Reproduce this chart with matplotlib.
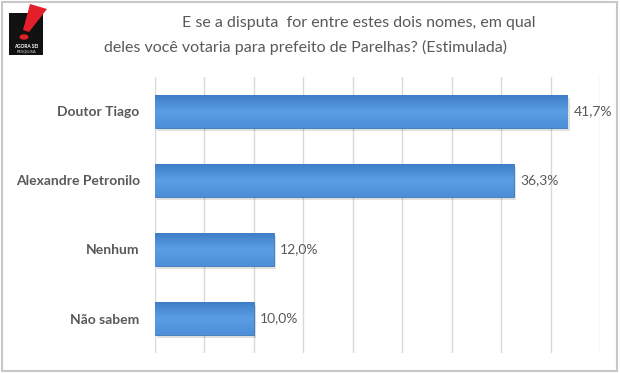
import matplotlib
matplotlib.use("Agg")
import numpy as np
import matplotlib.pyplot as plt
from matplotlib.patches import Rectangle, Polygon, Circle
from matplotlib.colors import LinearSegmentedColormap

categories = ["Doutor Tiago", "Alexandre Petronilo", "Nenhum", "Não sabem"]
values = [41.7, 36.3, 12.0, 10.0]
value_labels = ["41,7%", "36,3%", "12,0%", "10,0%"]
title_lines = ["E se a disputa  for entre estes dois nomes, em qual",
               "deles você votaria para prefeito de Parelhas? (Estimulada)"]

plt.rcParams["font.family"] = ["Lato", "DejaVu Sans"]
gray = "#595959"

fig = plt.figure(figsize=(6.2, 3.73), dpi=100)
ax = fig.add_axes([155 / 620, 1 - 353 / 373, 445 / 620, 276 / 373])

y = list(range(len(categories)))
bars = ax.barh(y, values, height=0.48, color="#4a8cd4", edgecolor="#3b78bd", linewidth=0.6, zorder=3)

# vertical gradient on each bar, like the office chart style
grad = LinearSegmentedColormap.from_list("g", ["#3c7cc6", "#5b9ee3", "#4d8fd8"])
for b in bars:
    x0, y0 = b.get_x(), b.get_y()
    w, h = b.get_width(), b.get_height()
    im = ax.imshow(np.linspace(0, 1, 64).reshape(-1, 1), cmap=grad, aspect="auto",
                   extent=(x0, x0 + w, y0 + h, y0), zorder=3.5, origin="upper")
    im.set_clip_path(b)
    # soft shadow under bar
    ax.add_patch(Rectangle((x0 + 0.25, y0 + 0.04), w, h, facecolor="#000000", alpha=0.12,
                           edgecolor="none", zorder=2.5))

for yi, v, lab in zip(y, values, value_labels):
    ax.text(v + 0.6, yi, lab, va="center", ha="left", fontsize=10, color=gray)

ax.set_xlim(0, 45)
ax.set_ylim(len(categories) - 0.5, -0.5)
ax.set_xticks(range(0, 50, 5))
ax.set_yticks(y)
ax.set_yticklabels(categories, fontsize=10, fontweight="bold", color=gray)
ax.tick_params(axis="y", length=0, pad=11)
ax.tick_params(axis="x", length=0, labelbottom=False)
ax.grid(axis="x", color="#d9d9d9", linewidth=1, zorder=0)
for s in ax.spines.values():
    s.set_visible(False)

# title
fig.text(359 / 620, 1 - 23 / 373, title_lines[0], ha="center", va="center", fontsize=11.5, color=gray)
fig.text(305 / 620, 1 - 47 / 373, title_lines[1], ha="center", va="center", fontsize=11.5, color=gray)

# frame
fig.patches.append(Rectangle((2 / 620, 2 / 373), 615 / 620, 369 / 373, transform=fig.transFigure,
                             fill=False, edgecolor="#c8c8c8", linewidth=1.5))

# logo
fig.patches.append(Rectangle((9 / 620, 1 - 55 / 373), 34 / 620, 42 / 373, transform=fig.transFigure,
                             facecolor="#111111", edgecolor="none"))
fig.patches.append(Polygon([(30 / 620, 1 - 4 / 373), (47 / 620, 1 - 9 / 373), (29 / 620, 1 - 32 / 373),
                            (23 / 620, 1 - 30 / 373)], closed=True, transform=fig.transFigure,
                           facecolor="#e3202a", edgecolor="none"))
fig.patches.append(Circle((24 / 620, 1 - 37 / 373), 4.5 / 620, transform=fig.transFigure,
                          facecolor="#e3202a", edgecolor="none"))
fig.text(26 / 620, 1 - 46 / 373, "AGORA SEI", ha="center", va="center", fontsize=3.4, color="white",
         fontweight="bold")
fig.text(26 / 620, 1 - 51.5 / 373, "PESQUISA", ha="center", va="center", fontsize=3, color="#dddddd")

fig.savefig("out.png", dpi=100)
